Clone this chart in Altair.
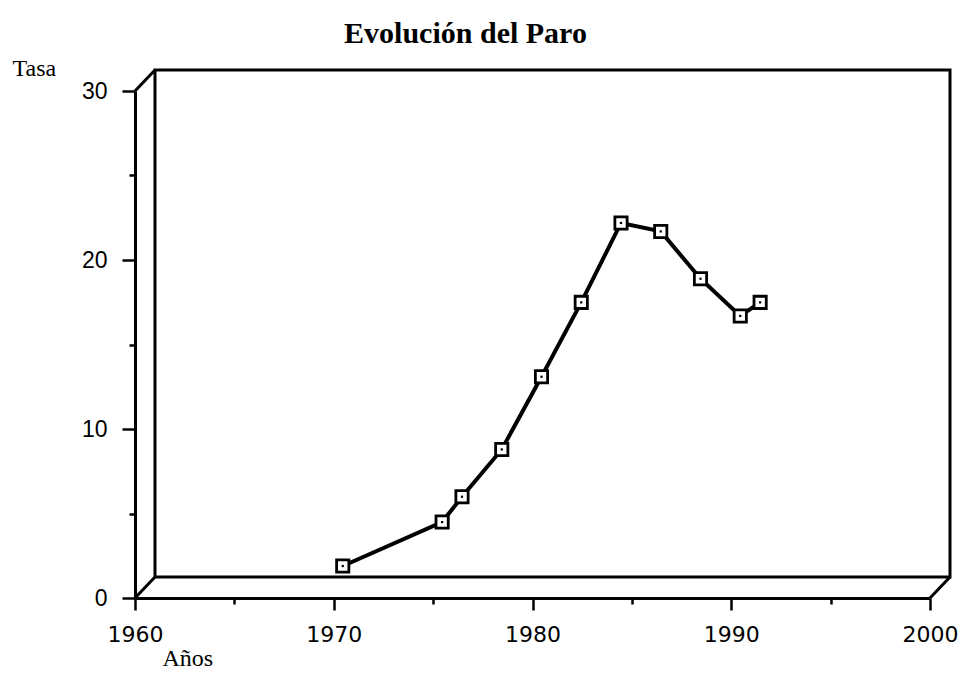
import altair as alt
import pandas as pd

# ---- data ----
years = [1970, 1975, 1976, 1978, 1980, 1982, 1984, 1986, 1988, 1990, 1991]
rates = [1.3, 3.9, 5.4, 8.2, 12.5, 16.9, 21.6, 21.1, 18.3, 16.1, 16.9]

x_domain = [1960, 2000]
y_domain = [0, 30]
x_ticks = [1960, 1965, 1970, 1975, 1980, 1985, 1990, 1995, 2000]
y_ticks = [0, 5, 10, 15, 20, 25, 30]

chart_title = "Evolución del Paro"
x_title = "Años"
y_title = "Tasa"

# frame corners (data coords) for the pseudo-3D box
corner_x = [1960, 1960, 2000]
corner_y = [30, 0, 0]

df = pd.DataFrame({"year": years, "rate": rates})
wall = pd.DataFrame({"year": [x_domain[0]], "year2": [x_domain[1]],
                     "rate": [y_domain[0]], "rate2": [y_domain[1]]})
edges = pd.DataFrame({"year": corner_x, "rate": corner_y})

DX, DY = 20, -21      # depth offset of the back wall
MX, MY = 9, -10       # data drawn at mid depth

xs = alt.Scale(domain=x_domain, nice=False, zero=False)
ys = alt.Scale(domain=y_domain, nice=False, zero=True)

x_axis = alt.Axis(
    values=x_ticks, format="d", title=x_title,
    labelExpr="datum.value % 10 == 0 ? datum.label : ''",
    tickSize=alt.condition("datum.value % 10 == 0", alt.value(12), alt.value(6)),
    tickWidth=2.5, tickColor="black",
    domainWidth=3, domainColor="black", grid=False,
    labelFont="DejaVu Sans", labelFontSize=22, labelColor="black",
    labelPadding=14, labelFlush=False, labelOverlap=False,
    titleFont="Liberation Serif", titleFontSize=24, titleFontWeight="normal",
    titleColor="black", titleX=27, titleY=67, titleAlign="left",
    titleBaseline="alphabetic", titleAnchor="start",
)
y_axis = alt.Axis(
    values=y_ticks, title=y_title,
    labelExpr="datum.value % 10 == 0 ? datum.label : ''",
    tickSize=alt.condition("datum.value % 10 == 0", alt.value(13), alt.value(6)),
    tickWidth=2.5, tickColor="black",
    domainWidth=3, domainColor="black", grid=False,
    labelFont="Liberation Sans", labelFontSize=23, labelColor="black",
    labelPadding=15, labelFlush=False, labelOverlap=False,
    titleFont="Liberation Serif", titleFontSize=24, titleFontWeight="normal",
    titleColor="black", titleAngle=0, titleX=-123, titleY=-16,
    titleAlign="left", titleBaseline="alphabetic", titleAnchor="start",
)

X = alt.X("year:Q", scale=xs, axis=x_axis)
Y = alt.Y("rate:Q", scale=ys, axis=y_axis)

back = alt.Chart(wall).mark_rect(
    fillOpacity=0, stroke="black", strokeWidth=3,
    xOffset=DX, x2Offset=DX, yOffset=DY, y2Offset=DY,
).encode(x=X, x2="year2:Q", y=Y, y2="rate2:Q")

diag = alt.Chart(edges).mark_rule(
    color="black", strokeWidth=3, x2Offset=DX, y2Offset=DY,
).encode(x=X, y=Y, x2="year:Q", y2="rate:Q")

line = alt.Chart(df).mark_line(
    color="black", strokeWidth=4, xOffset=MX, yOffset=MY,
).encode(x=X, y=Y)

pts = alt.Chart(df).mark_point(
    shape="square", size=150, filled=True, fill="white", stroke="black",
    strokeWidth=2.8, opacity=1, xOffset=MX, yOffset=MY,
).encode(x=X, y=Y)

dots = alt.Chart(df).mark_point(
    shape="square", size=5, filled=True, color="black", opacity=1,
    xOffset=MX, yOffset=MY,
).encode(x=X, y=Y)

chart = alt.layer(back, diag, line, pts, dots).properties(
    width=795, height=507,
    autosize=alt.AutoSizeParams(type="none"),
    padding={"left": 127, "top": 83, "right": 28, "bottom": 76},
    background="white",
    title=alt.TitleParams(
        chart_title, font="Liberation Serif", fontSize=30, fontWeight="bold",
        color="black", anchor="middle", dx=-67, offset=7,
    ),
).configure_view(stroke=None)

chart.save("out.html", embed_options={"renderer": "svg", "actions": False})
